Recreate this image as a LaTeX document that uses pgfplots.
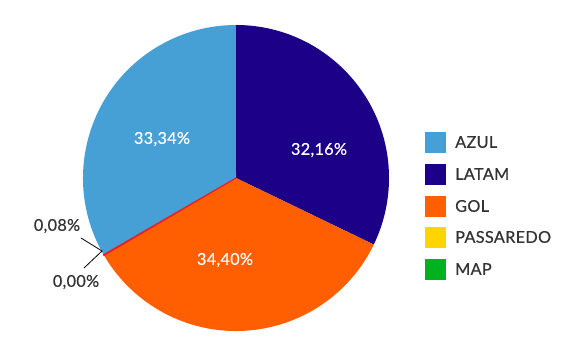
\documentclass[border=0pt]{standalone}
\usepackage{pgfplots}
\pgfplotsset{compat=1.18}
\usepackage{fontspec}
\setmainfont{Lato}[FakeBold=0.6, LetterSpace=2]
\definecolor{azul}{HTML}{46A0D6}
\definecolor{latam}{HTML}{1C0087}
\definecolor{gol}{HTML}{FF5F00}
\definecolor{passaredo}{HTML}{FFD500}
\definecolor{map}{HTML}{00B21E}
\definecolor{thinred}{HTML}{E8202A}
\definecolor{txt}{HTML}{333333}
\begin{document}
\begin{tikzpicture}[x=1bp,y=1bp]
\path[use as bounding box] (0,0) rectangle (578,351);
% shares in percent
\def\vLATAM{32.16}
\def\vGOL{34.40}
\def\vPASS{0.08}
\def\vMAP{0.00}
\def\vAZUL{33.34}
\pgfmathsetmacro\aA{90}
\pgfmathsetmacro\aB{\aA-3.6*\vLATAM}
\pgfmathsetmacro\aC{\aB-3.6*\vGOL}
\pgfmathsetmacro\aD{\aC-3.6*\vPASS}
\pgfmathsetmacro\aE{\aD-3.6*\vMAP}
\pgfmathsetmacro\aF{\aE-3.6*\vAZUL}
\begin{axis}[at={(83bp,20bp)}, anchor=south west, scale only axis,
  width=306bp, height=306bp, xmin=-1, xmax=1, ymin=-1, ymax=1,
  hide axis, clip=false]
\addplot[draw=none] coordinates {(0,0)};
\fill[latam] (axis cs:0,0) -- ++(\aA:153bp) arc[start angle=\aA, end angle=\aB, radius=153bp] -- cycle;
\fill[gol] (axis cs:0,0) -- ++(\aB:153bp) arc[start angle=\aB, end angle=\aC, radius=153bp] -- cycle;
\fill[azul] (axis cs:0,0) -- ++(\aE:153bp) arc[start angle=\aE, end angle=\aF, radius=153bp] -- cycle;
\filldraw[draw=thinred, fill=thinred, line width=1.2bp] (axis cs:0,0) -- ++(\aC:153bp) arc[start angle=\aC, end angle=\aD, radius=153bp] -- cycle;
\end{axis}
\begin{scope}[font=\fontsize{16.3}{19}\selectfont]
\node[white] at (162,212) {33,34\%};
\node[white] at (319,201) {32,16\%};
\node[white] at (225,91) {34,40\%};
\node[txt] at (57,125) {0,08\%};
\node[txt] at (76,69) {0,00\%};
\end{scope}
\draw[black, line width=0.8bp] (81,113) -- (102,100) -- (84,83);
\begin{scope}[font=\fontsize{16.3}{19}\selectfont, txt]
\foreach \c/\n/\y in {azul/AZUL/209, latam/LATAM/177, gol/GOL/145, passaredo/PASSAREDO/114, map/MAP/82}{
  \fill[\c] (425,\y-10.5) rectangle (446,\y+10.5);
  \node[anchor=base west, inner sep=0pt] at (455,\y-5.8) {\n};
}
\end{scope}
\end{tikzpicture}
\end{document}
